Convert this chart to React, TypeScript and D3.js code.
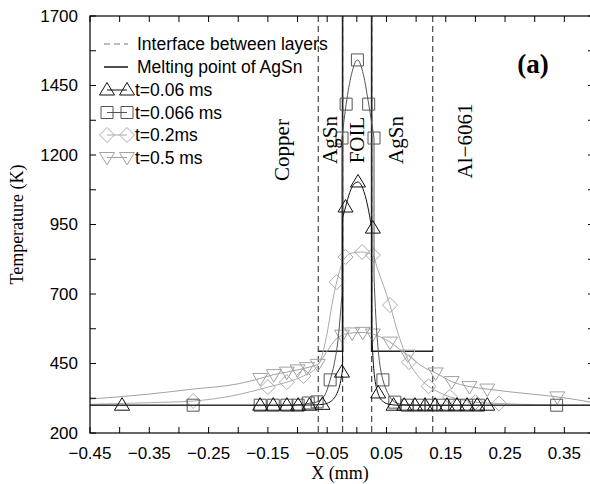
import React from 'react';
import * as d3 from 'd3';

// axis ticks
const xTicks = [-0.45, -0.4, -0.35, -0.3, -0.25, -0.2, -0.15, -0.1, -0.05, 0, 0.05, 0.1, 0.15, 0.2, 0.25, 0.3, 0.35, 0.4];
const xTickLabels = [-0.45, -0.35, -0.25, -0.15, -0.05, 0.05, 0.15, 0.25, 0.35];
const yTicks = [200, 325, 450, 575, 700, 825, 950, 1075, 1200, 1325, 1450, 1575, 1700];
const yTickLabels = [200, 450, 700, 950, 1200, 1450, 1700];

// layer interfaces (mm) and melting point of AgSn (K)
const interfaces = [-0.065, -0.024, 0.025, 0.128];
const meltingPoint = 494;
const layerNames = ['Copper', 'AgSn', 'FOIL', 'AgSn', 'Al\u22126061'];
const layerLabelX = [-0.126, -0.046, 0.001, 0.066, 0.182];

// t = 0.06 ms
const t006Line: [number, number][] = [
  [-0.45, 300], [-0.1, 300], [-0.07, 301], [-0.055, 304], [-0.045, 312], [-0.038, 326], [-0.032, 350],
  [-0.028, 378], [-0.024, 430],
  [-0.024, 975], [-0.019, 1013], [-0.012, 1065], [-0.005, 1095], [0.002, 1103], [0.01, 1080], [0.018, 1020], [0.025, 937],
  [0.025, 560], [0.027, 480], [0.029, 420], [0.031, 385], [0.034, 355], [0.038, 330], [0.045, 312], [0.055, 303],
  [0.07, 300], [0.4, 300],
];
const t006Marks: [number, number][] = [
  [-0.396, 300], [-0.163, 300], [-0.141, 300], [-0.118, 300], [-0.099, 300], [-0.08, 300], [-0.058, 303],
  [-0.025, 419], [-0.019, 1013], [0.002, 1103], [0.027, 937], [0.036, 344],
  [0.062, 300], [0.08, 300], [0.098, 300], [0.115, 300], [0.132, 300], [0.152, 300], [0.169, 300], [0.186, 300],
  [0.203, 300], [0.22, 300],
];

// t = 0.066 ms
const t0066Line: [number, number][] = [
  [-0.45, 300], [-0.12, 300], [-0.09, 303], [-0.08, 307], [-0.067, 312], [-0.058, 325], [-0.052, 345],
  [-0.045, 391], [-0.038, 450], [-0.032, 530], [-0.028, 620], [-0.025, 700],
  [-0.025, 1261], [-0.018, 1383], [-0.009, 1490], [0.001, 1542], [0.011, 1490], [0.02, 1383], [0.029, 1261],
  [0.029, 760], [0.032, 620], [0.036, 500], [0.04, 430], [0.044, 391], [0.052, 345], [0.064, 311], [0.08, 302],
  [0.12, 300], [0.4, 300],
];
const t0066Marks: [number, number][] = [
  [-0.276, 300], [-0.163, 300], [-0.141, 300], [-0.118, 300], [-0.099, 300], [-0.082, 308], [-0.067, 312],
  [-0.045, 391], [-0.025, 1261], [-0.018, 1383], [0.001, 1542], [0.02, 1383], [0.029, 1261], [0.044, 391],
  [0.064, 311], [0.085, 300], [0.105, 300], [0.125, 300], [0.145, 300], [0.165, 300], [0.185, 300], [0.205, 300],
  [0.337, 300],
];

// t = 0.2 ms
const t02Line: [number, number][] = [
  [-0.45, 303], [-0.35, 309], [-0.276, 315], [-0.2, 338], [-0.15, 365], [-0.118, 383], [-0.09, 405], [-0.07, 432],
  [-0.06, 470], [-0.05, 560], [-0.042, 660], [-0.034, 743], [-0.025, 810], [-0.019, 833], [-0.005, 849], [0.009, 851],
  [0.02, 846], [0.027, 840], [0.035, 790], [0.045, 730], [0.056, 660], [0.07, 555], [0.088, 455], [0.105, 400],
  [0.121, 368], [0.14, 345], [0.157, 330], [0.18, 318], [0.2, 311], [0.24, 306], [0.3, 302], [0.4, 300],
];
const t02Marks: [number, number][] = [
  [-0.276, 315], [-0.15, 365], [-0.118, 383], [-0.09, 405], [-0.034, 743], [-0.019, 833], [0.009, 851],
  [0.027, 840], [0.056, 660], [0.088, 455], [0.121, 368], [0.157, 330], [0.2, 311], [0.24, 306],
];

// t = 0.5 ms
const t05Line: [number, number][] = [
  [-0.45, 322], [-0.35, 340], [-0.276, 358], [-0.2, 377], [-0.163, 396], [-0.14, 410], [-0.118, 419], [-0.1, 427],
  [-0.084, 435], [-0.066, 447], [-0.05, 495], [-0.035, 538], [-0.025, 552], [-0.008, 560], [0.01, 562], [0.027, 556],
  [0.04, 545], [0.056, 527], [0.07, 505], [0.086, 480], [0.11, 440], [0.133, 416], [0.16, 385], [0.19, 367],
  [0.22, 358], [0.28, 343], [0.338, 330], [0.37, 320], [0.4, 309],
];
const t05Marks: [number, number][] = [
  [-0.163, 396], [-0.14, 410], [-0.118, 419], [-0.1, 427], [-0.084, 435], [-0.066, 447],
  [-0.025, 552], [-0.008, 560], [0.01, 562], [0.027, 556], [0.056, 527], [0.086, 480],
  [0.133, 416], [0.16, 385], [0.19, 367], [0.22, 358], [0.338, 330],
];

const seriesLabels = ['t=0.06 ms', 't=0.066 ms', 't=0.2ms', 't=0.5 ms'];

const W = 590;
const H = 484;
const LEFT = 90, RIGHT = 594, TOP = 16, BOTTOM = 433;
const SANS = '"Liberation Sans", Arial, Helvetica, sans-serif';
const SERIF = '"Liberation Serif", "Times New Roman", serif';

const x = d3.scaleLinear().domain([-0.45, 0.4]).range([LEFT, RIGHT]);
const y = d3.scaleLinear().domain([200, 1700]).range([BOTTOM, TOP]);

const markerPaths: Record<string, string> = {
  up: 'M0,-7.5L7.5,5L-7.5,5Z',
  square: 'M-6,-6H6V6H-6Z',
  diamond: 'M0,-7.5L7.5,0L0,7.5L-7.5,0Z',
  down: 'M0,7.5L7.5,-5L-7.5,-5Z',
};

// curves are smooth inside a layer, with straight jumps where x repeats
function curvePath(pts: [number, number][]) {
  const line = d3.line<[number, number]>().x(d => x(d[0])).y(d => y(d[1])).curve(d3.curveMonotoneX);
  const runs: [number, number][][] = [[pts[0]]];
  let out = '';
  for (let i = 1; i < pts.length; i++) {
    if (pts[i][0] === pts[i - 1][0]) {
      out += `M${x(pts[i - 1][0])},${y(pts[i - 1][1])}L${x(pts[i][0])},${y(pts[i][1])}`;
      runs.push([pts[i]]);
    } else {
      runs[runs.length - 1].push(pts[i]);
    }
  }
  runs.forEach(r => { if (r.length > 1) out += line(r); });
  return out;
}

const series = [
  { line: t006Line, marks: t006Marks, color: '#111', shape: 'up' },
  { line: t0066Line, marks: t0066Marks, color: '#555', shape: 'square' },
  { line: t02Line, marks: t02Marks, color: '#aaa', shape: 'diamond' },
  { line: t05Line, marks: t05Marks, color: '#a2a2a2', shape: 'down' },
];

const fmt = (v: number) => (v < 0 ? '\u2212' : '') + Math.abs(v).toFixed(2);

export default function App() {
  const meltLeft = d3.line()([[x(interfaces[0]), y(meltingPoint)], [x(interfaces[1]), y(meltingPoint)], [x(interfaces[1]), TOP]]);
  const meltRight = d3.line()([[x(interfaces[2]), TOP], [x(interfaces[2]), y(meltingPoint)], [x(interfaces[3]), y(meltingPoint)]]);
  return (
    <svg width={W} height={H} style={{ position: 'absolute', left: 0, top: 0, background: '#fff' }}>
      <defs>
        <clipPath id="plot">
          <rect x={LEFT} y={TOP} width={RIGHT - LEFT} height={BOTTOM - TOP} />
        </clipPath>
      </defs>

      <g clipPath="url(#plot)">
        {interfaces.map((v, i) => (
          <line key={i} x1={x(v)} x2={x(v)} y1={TOP} y2={BOTTOM} stroke="#444" strokeWidth={1.2} strokeDasharray="6,4" />
        ))}
        <path d={meltLeft || ''} fill="none" stroke="#222" strokeWidth={1.6} />
        <path d={meltRight || ''} fill="none" stroke="#222" strokeWidth={1.6} />

        {series.slice().reverse().map((s, i) => (
          <g key={i}>
            <path d={curvePath(s.line)} fill="none" stroke={s.color} strokeWidth={1} />
            {s.marks.map((m, j) => (
              <path key={j} d={markerPaths[s.shape]} transform={`translate(${x(m[0])},${y(m[1])})`}
                fill="none" stroke={s.color} strokeWidth={1} />
            ))}
          </g>
        ))}
      </g>

      {/* layer names */}
      {layerNames.map((n, i) => (
        <text key={i} transform={`translate(${x(layerLabelX[i])},${i === 0 ? 150 : i === 4 ? 141 : 140}) rotate(-90)`}
          textAnchor="middle" dominantBaseline="central" fontFamily={SERIF} fontSize={21} fill="#000">{n}</text>
      ))}
      <text x={533} y={73} textAnchor="middle" fontFamily={SERIF} fontWeight="bold" fontSize={27} fill="#000">(a)</text>

      {/* frame and ticks */}
      <rect x={LEFT} y={TOP} width={RIGHT - LEFT} height={BOTTOM - TOP} fill="none" stroke="#000" strokeWidth={1.2} />
      {xTicks.map((v, i) => (
        <g key={i}>
          <line x1={x(v)} x2={x(v)} y1={BOTTOM} y2={BOTTOM - 6} stroke="#000" />
          <line x1={x(v)} x2={x(v)} y1={TOP} y2={TOP + 6} stroke="#000" />
        </g>
      ))}
      {yTicks.map((v, i) => (
        <g key={i}>
          <line x1={LEFT} x2={LEFT + 6} y1={y(v)} y2={y(v)} stroke="#000" />
          <line x1={RIGHT} x2={RIGHT - 6} y1={y(v)} y2={y(v)} stroke="#000" />
        </g>
      ))}
      {xTickLabels.map((v, i) => (
        <text key={i} x={x(v)} y={BOTTOM + 26} textAnchor="middle" fontFamily={SANS} fontSize={17} fill="#000">{fmt(v)}</text>
      ))}
      {yTickLabels.map((v, i) => (
        <text key={i} x={LEFT - 12} y={y(v)} textAnchor="end" dominantBaseline="central" fontFamily={SANS} fontSize={17} fill="#000">{v}</text>
      ))}
      <text x={(LEFT + 590) / 2} y={479} textAnchor="middle" fontFamily={SERIF} fontSize={18} fill="#000">X (mm)</text>
      <text transform={`translate(17,${(TOP + BOTTOM) / 2}) rotate(-90)`} textAnchor="middle" dominantBaseline="central"
        fontFamily={SERIF} fontSize={18} fill="#000">Temperature (K)</text>

      {/* legend */}
      <g fontFamily={SANS} fontSize={17.5} fill="#000">
        <line x1={104} x2={128} y1={44} y2={44} stroke="#777" strokeWidth={1.2} strokeDasharray="6,4" />
        <text x={137} y={44} dominantBaseline="central">Interface between layers</text>
        <line x1={104} x2={128} y1={67} y2={67} stroke="#222" strokeWidth={1.6} />
        <text x={137} y={67} dominantBaseline="central">Melting point of AgSn</text>
        {series.map((s, i) => {
          const yy = 90 + i * 22.5;
          return (
            <g key={i}>
              <line x1={107} x2={127} y1={yy} y2={yy} stroke={s.color} />
              <path d={markerPaths[s.shape]} transform={`translate(107,${yy})`} fill="none" stroke={s.color} />
              <path d={markerPaths[s.shape]} transform={`translate(127,${yy})`} fill="none" stroke={s.color} />
              <text x={135} y={yy} dominantBaseline="central">{seriesLabels[i]}</text>
            </g>
          );
        })}
      </g>
    </svg>
  );
}
